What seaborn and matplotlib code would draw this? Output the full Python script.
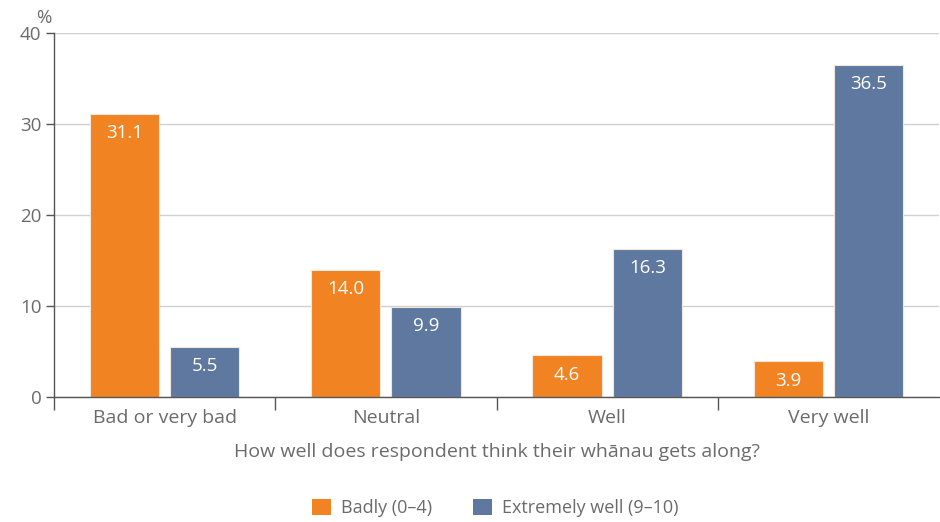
import matplotlib
matplotlib.use("Agg")
import matplotlib.pyplot as plt
import seaborn as sns
import pandas as pd
from matplotlib.ticker import FixedLocator
from matplotlib.patches import Patch

categories = ["Bad or very bad", "Neutral", "Well", "Very well"]
series_names = ["Badly (0\u20134)", "Extremely well (9\u201310)"]
badly = [31.1, 14.0, 4.6, 3.9]
extremely_well = [5.5, 9.9, 16.3, 36.5]
y_ticks = [0, 10, 20, 30, 40]

colors = ["#F28322", "#5E789F"]
grey = "#6b6b6b"

df = pd.DataFrame({
    "category": categories * 2,
    "group": [series_names[0]] * 4 + [series_names[1]] * 4,
    "value": badly + extremely_well,
})

sns.set_theme(style="white")
plt.rcParams["font.family"] = ["Open Sans", "DejaVu Sans"]

fig = plt.figure(figsize=(9.4, 5.22), dpi=100)
ax = fig.add_axes([0.0574, 0.2395, 0.9416, 0.6973])

sns.barplot(data=df, x="category", y="value", hue="group", order=categories,
            hue_order=series_names, palette=colors, width=0.726, gap=0.137,
            saturation=1, edgecolor="#f0e6dc", linewidth=0.8, legend=False, ax=ax)

for cont in ax.containers:
    ax.bar_label(cont, fmt="%.1f", padding=-20.5, color="white", fontsize=13.5)

ax.set_xlim(-0.5, 3.5)
ax.set_ylim(0, 40)
ax.set_yticks(y_ticks)
ax.yaxis.grid(True, color="#d0d0d0", linewidth=1)
ax.set_axisbelow(True)

for s in ["top", "right"]:
    ax.spines[s].set_visible(False)
for s in ["left", "bottom"]:
    ax.spines[s].set_color("#555555")
    ax.spines[s].set_linewidth(1.0)

ax.tick_params(axis="y", which="major", length=6, width=1, color="#555555",
               labelsize=13.5, labelcolor=grey, pad=3, direction="out", left=True)
ax.tick_params(axis="x", which="major", length=0, labelsize=14, labelcolor=grey, pad=9)
ax.xaxis.set_minor_locator(FixedLocator([-0.5, 0.5, 1.5, 2.5]))
ax.tick_params(axis="x", which="minor", length=9, width=1, color="#555555",
               direction="out", bottom=True)

ax.set_ylabel("")
ax.set_xlabel("How well does respondent think their wh\u0101nau gets along?",
              fontsize=14, color=grey, labelpad=11)
ax.annotate("%", xy=(-0.011, 1.0), xycoords="axes fraction", xytext=(0, 4),
            textcoords="offset points", fontsize=13.5, color=grey,
            ha="center", va="bottom")

handles = [Patch(facecolor=c, edgecolor="none") for c in colors]
fig.legend(handles, series_names, loc="center", bbox_to_anchor=(0.527, 0.027),
           ncol=2, frameon=False, fontsize=13, labelcolor=grey,
           handlelength=1.05, handleheight=1.05, columnspacing=2.3, handletextpad=0.55)

fig.savefig("out.png", dpi=100)
